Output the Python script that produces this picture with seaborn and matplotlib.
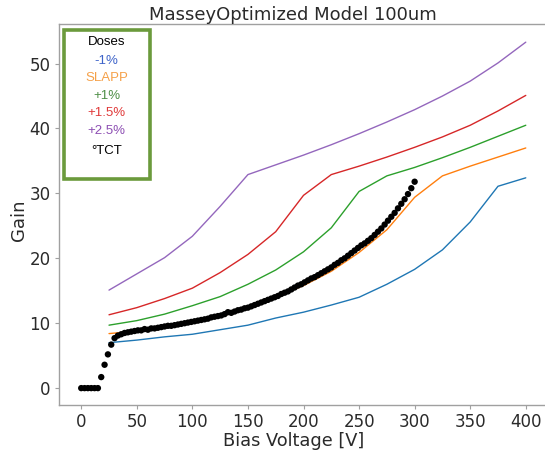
import matplotlib
matplotlib.use("Agg")
import matplotlib.pyplot as plt
from matplotlib.patches import Rectangle
import numpy as np
import pandas as pd
import seaborn as sns

# Simulated gain curves (bias voltage in V)
bias_sim = [25, 50, 75, 100, 125, 150, 175, 200, 225, 250, 275, 300, 325, 350, 375, 400]
gain_minus1 = [7.0, 7.4, 7.9, 8.3, 9.0, 9.7, 10.8, 11.7, 12.8, 14.0, 16.0, 18.3, 21.3, 25.6, 31.1, 32.4]
gain_slapp = [8.4, 8.8, 9.3, 10.0, 11.0, 12.3, 14.0, 15.8, 18.0, 20.9, 24.4, 29.4, 32.7, 34.2, 35.6, 37.0]
gain_plus1 = [9.7, 10.4, 11.4, 12.7, 14.1, 16.0, 18.2, 21.0, 24.7, 30.3, 32.7, 34.0, 35.5, 37.1, 38.8, 40.5]
gain_plus15 = [11.3, 12.4, 13.8, 15.4, 17.8, 20.6, 24.1, 29.7, 32.9, 34.2, 35.6, 37.1, 38.7, 40.5, 42.7, 45.1]
gain_plus25 = [15.1, 17.6, 20.1, 23.4, 28.0, 32.9, 34.4, 35.9, 37.5, 39.2, 41.0, 42.9, 45.0, 47.3, 50.1, 53.3]

series_names = ["-1%", "SLAPP", "+1%", "+1.5%", "+2.5%"]
series_colors = ["#1f77b4", "#ff7f0e", "#2ca02c", "#d62728", "#9467bd"]

# TCT measurement
bias_tct = [0, 3, 6, 9, 12, 15, 18, 21, 24, 27, 30, 33, 36, 39, 42, 45, 48, 51, 54, 57,
            60, 63, 66, 69, 72, 75, 78, 81, 84, 87, 90, 93, 96, 99, 102, 105, 108, 111,
            114, 117, 120, 123, 126, 129, 132, 135, 138, 141, 144, 147, 150, 153, 156,
            159, 162, 165, 168, 171, 174, 177, 180, 183, 186, 189, 192, 195, 198, 201,
            204, 207, 210, 213, 216, 219, 222, 225, 228, 231, 234, 237, 240, 243, 246,
            249, 252, 255, 258, 261, 264, 267, 270, 273, 276, 279, 282, 285, 288, 291,
            294, 297, 300]
gain_tct = [0.0, 0.0, 0.0, 0.0, 0.0, 0.0, 1.7, 3.6, 5.2, 6.7, 7.7, 8.1, 8.3, 8.5, 8.6, 8.7,
            8.8, 8.9, 8.9, 9.1, 9.0, 9.2, 9.2, 9.3, 9.4, 9.5, 9.6, 9.6, 9.7, 9.8, 9.9,
            10.0, 10.1, 10.2, 10.3, 10.4, 10.5, 10.6, 10.7, 10.9, 11.0, 11.1, 11.2, 11.4,
            11.7, 11.6, 11.8, 12.0, 12.1, 12.3, 12.4, 12.6, 12.8, 13.0, 13.2, 13.4, 13.6,
            13.8, 14.0, 14.2, 14.5, 14.7, 14.9, 15.2, 15.5, 15.8, 16.0, 16.3, 16.6, 16.9,
            17.1, 17.4, 17.7, 18.0, 18.3, 18.6, 19.0, 19.3, 19.7, 20.0, 20.4, 20.8, 21.2,
            21.6, 22.0, 22.3, 22.7, 23.1, 23.6, 24.1, 24.6, 25.2, 25.8, 26.4, 27.0, 27.7,
            28.4, 29.1, 29.9, 30.8, 31.8]

sim = pd.DataFrame({
    "bias": bias_sim * 5,
    "gain": gain_minus1 + gain_slapp + gain_plus1 + gain_plus15 + gain_plus25,
    "dose": sum([[n] * len(bias_sim) for n in series_names], []),
})
tct = pd.DataFrame({"bias": bias_tct, "gain": gain_tct})

sns.set_style("ticks")
plt.rcParams["font.family"] = ["DejaVu Sans"]

W, H = 545, 451
fig = plt.figure(figsize=(W / 100, H / 100), dpi=100)
ax = fig.add_axes([59 / W, 1 - 405 / H, 489 / W, 381 / H])

sns.lineplot(data=sim, x="bias", y="gain", hue="dose", hue_order=series_names,
             palette=series_colors, linewidth=1.0, legend=False, ax=ax)
sns.scatterplot(data=tct, x="bias", y="gain", color="black", s=21,
                edgecolor="none", legend=False, ax=ax, zorder=5)

ax.set_xlim(-20, 420)
ax.set_ylim(-2.6, 56.1)
ax.set_xticks([0, 50, 100, 150, 200, 250, 300, 350, 400])
ax.set_yticks([0, 10, 20, 30, 40, 50])

spine_c = "#a0a0a0"
for s in ax.spines.values():
    s.set_visible(True)
    s.set_color(spine_c)
    s.set_linewidth(1.0)
ax.tick_params(axis="both", colors=spine_c, labelcolor="#2a2a2a",
               labelsize=12, length=3, width=0.8, pad=3)

ax.set_xlabel("Bias Voltage [V]", fontsize=12.8, color="#2a2a2a")
ax.set_ylabel("Gain", fontsize=13, color="#2a2a2a")
ax.xaxis.set_label_coords((294 - 59) / 489, -0.071)
ax.yaxis.set_label_coords(-0.063, 0.485)
ax.set_title("MasseyOptimized Model 100um", fontsize=13, color="#2a2a2a",
             x=(293 - 59) / 489, pad=3)

# Dose key box
def fx(px):
    return px / W

def fy(py):
    return 1 - py / H

box = Rectangle((fx(63.5), fy(179)), fx(150) - fx(63.5), fy(29.5) - fy(179),
                transform=fig.transFigure, facecolor="white",
                edgecolor="#6b9a3c", linewidth=2.6, zorder=10)
fig.patches.append(box)

key_texts = ["Doses", "-1%", "SLAPP", "+1%", "+1.5%", "+2.5%", "°TCT"]
key_colors = ["black", "#3d63c9", "#f5a048", "#4e8f47", "#e03a3a", "#8d4fb3", "black"]
key_y = [42, 61, 78, 96, 113, 131, 151]
for t, c, yy in zip(key_texts, key_colors, key_y):
    fig.text(fx(106.5), fy(yy), t, color=c, fontsize=9.5,
             family=["Liberation Sans", "DejaVu Sans"],
             ha="center", va="center", zorder=11)

fig.savefig("out.png", dpi=100)
